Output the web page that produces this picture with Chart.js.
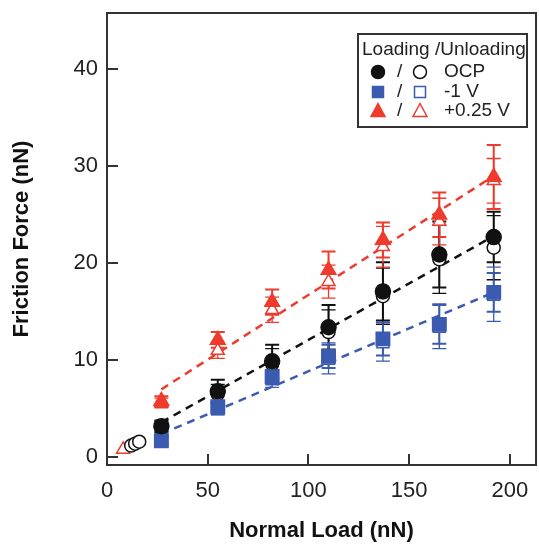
<!DOCTYPE html>
<html>
<head>
<meta charset="utf-8">
<script src="https://cdn.jsdelivr.net/npm/chart.js@4.4.0/dist/chart.umd.min.js"></script>
<style>
html, body { margin: 0; padding: 0; background: #fff; }
</style>
</head>
<body>
<canvas id="canvas" width="539" height="544"></canvas>
<script>
/* data */
const xTicks = [0, 50, 100, 150, 200];
const yTicks = [0, 10, 20, 30, 40];

const loadX = [27, 55, 82, 110, 137, 165, 192];
const ocpLoad = [3.2, 6.8, 9.9, 13.4, 17.1, 20.9, 22.7];
const ocpLoadErr = [0.6, 1.2, 1.7, 2.3, 3.0, 3.4, 2.6];
const negLoad = [1.7, 5.2, 8.3, 10.4, 12.2, 13.7, 17.0];
const negLoadErr = [0.4, 0.5, 0.7, 1.2, 1.7, 2.0, 2.0];
const posLoad = [5.8, 12.1, 16.0, 19.3, 22.4, 25.0, 28.9];
const posLoadErr = [0.5, 0.8, 1.3, 1.9, 1.8, 2.3, 3.3];

const ocpUnloadX = [12, 14, 16, 27, 55, 82, 110, 137, 165, 192];
const ocpUnload = [1.2, 1.4, 1.6, 3.0, 6.5, 9.6, 12.9, 16.6, 20.4, 21.6];
const ocpUnloadErr = [0, 0, 0, 0.7, 1.0, 1.6, 2.3, 2.9, 3.5, 3.3];
const negUnloadX = [27, 55, 82, 110, 137, 165, 192];
const negUnload = [1.8, 5.0, 8.1, 10.2, 11.9, 13.5, 16.8];
const negUnloadErr = [0.4, 0.6, 0.9, 1.6, 2.0, 2.3, 2.8];
const posUnloadX = [8, 27, 55, 82, 110, 137, 165, 192];
const posUnload = [0.8, 5.6, 11.0, 15.2, 18.1, 21.7, 24.3, 28.5];
const posUnloadErr = [0, 0.5, 0.8, 1.3, 1.7, 2.1, 2.4, 2.3];

const fitX = [27, 192];
const ocpFit = [3.6, 22.8];
const negFit = [2.4, 17.0];
const posFit = [7.0, 29.0];

const RED = '#ee3b2e';
const BLUE = '#3b5bb0';
const BLACK = '#111';
const FONT = '"Liberation Sans", Arial, Helvetica, sans-serif';

function pts(xs, ys) {
    return xs.map(function(x, i){ return {x: x, y: ys[i]}; });
}

// vertical error bars with caps, drawn under the markers
const errorBars = {
    id: 'errorBars',
    beforeDatasetsDraw(chart) {
        const ctx = chart.ctx;
        const xs = chart.scales.x, ys = chart.scales.y;
        chart.data.datasets.forEach(function(ds){
            if (!ds.errors) return;
            ctx.save();
            ctx.strokeStyle = ds.errorColor;
            ctx.lineWidth = ds.errorWidth;
            ds.data.forEach(function(p, j){
                const e = ds.errors[j];
                if (!e) return;
                const px = xs.getPixelForValue(p.x);
                const top = ys.getPixelForValue(p.y + e);
                const bot = ys.getPixelForValue(p.y - e);
                ctx.beginPath();
                ctx.moveTo(px, top); ctx.lineTo(px, bot);
                ctx.moveTo(px - 7, top); ctx.lineTo(px + 7, top);
                ctx.moveTo(px - 7, bot); ctx.lineTo(px + 7, bot);
                ctx.stroke();
            });
            ctx.restore();
        });
    }
};

function marker(ctx, kind, x, y, filled, color) {
    ctx.save();
    ctx.fillStyle = filled ? color : '#fff';
    ctx.strokeStyle = color;
    ctx.lineWidth = 1.5;
    ctx.beginPath();
    if (kind == 'circle') {
        ctx.arc(x, y, 6.5, 0, Math.PI * 2);
    } else if (kind == 'rect') {
        ctx.rect(x - 5.5, y - 5.5, 11, 11);
    } else {
        ctx.moveTo(x, y - 7.5);
        ctx.lineTo(x + 7, y + 5.5);
        ctx.lineTo(x - 7, y + 5.5);
        ctx.closePath();
    }
    ctx.fill();
    ctx.stroke();
    ctx.restore();
}

// plot frame + custom legend box
const frameAndLegend = {
    id: 'frameAndLegend',
    afterDraw(chart) {
        const ctx = chart.ctx;
        const a = chart.chartArea;
        ctx.save();
        ctx.strokeStyle = '#333';
        ctx.lineWidth = 2;
        ctx.strokeRect(a.left, a.top, a.right - a.left, a.bottom - a.top);

        ctx.strokeRect(358, 34, 169, 93);
        ctx.fillStyle = '#222';
        ctx.font = '19px ' + FONT;
        ctx.textBaseline = 'middle';
        ctx.fillText('Loading /Unloading', 362, 50);
        const rows = [
            ['circle', BLACK, 'OCP', 72],
            ['rect', BLUE, '-1 V', 92],
            ['triangle', RED, '+0.25 V', 111]
        ];
        rows.forEach(function(r){
            marker(ctx, r[0], 378, r[3], true, r[1]);
            ctx.fillStyle = '#222';
            ctx.fillText('/', 397, r[3]);
            marker(ctx, r[0], 420, r[3], false, r[1]);
            ctx.fillStyle = '#222';
            ctx.fillText(r[2], 444, r[3]);
        });
        ctx.restore();
    }
};

function scatterSet(data, errors, style, color, filled, radius, errW) {
    return {
        type: 'scatter',
        data: data,
        errors: errors,
        errorColor: color,
        errorWidth: errW,
        pointStyle: style,
        pointRadius: radius,
        pointHoverRadius: radius,
        pointBackgroundColor: filled ? color : '#fff',
        pointBorderColor: color,
        pointBorderWidth: 1.5,
        showLine: false,
        order: filled ? 1 : 2
    };
}

function fitSet(ys, color) {
    return {
        type: 'line',
        data: pts(fitX, ys),
        borderColor: color,
        borderWidth: 2.5,
        borderDash: [8, 6],
        pointRadius: 0,
        fill: false,
        order: 5
    };
}

function noPad(s) {
    s.paddingTop = 0; s.paddingBottom = 0;
    s.paddingLeft = 0; s.paddingRight = 0;
}

const ctx = document.getElementById('canvas');
new Chart(ctx, {
    type: 'scatter',
    data: {
        datasets: [
            scatterSet(pts(loadX, ocpLoad), ocpLoadErr, 'circle', BLACK, true, 7.5, 2),
            scatterSet(pts(loadX, negLoad), negLoadErr, 'rect', BLUE, true, 9.5, 2),
            scatterSet(pts(loadX, posLoad), posLoadErr, 'triangle', RED, true, 8.5, 2),
            scatterSet(pts(ocpUnloadX, ocpUnload), ocpUnloadErr, 'circle', BLACK, false, 6.5, 1.3),
            scatterSet(pts(negUnloadX, negUnload), negUnloadErr, 'rect', BLUE, false, 8.5, 1.3),
            scatterSet(pts(posUnloadX, posUnload), posUnloadErr, 'triangle', RED, false, 7.5, 1.3),
            fitSet(ocpFit, BLACK),
            fitSet(negFit, BLUE),
            fitSet(posFit, RED)
        ]
    },
    options: {
        responsive: false,
        animation: false,
        layout: { autoPadding: false, padding: { left: 0, top: 13, right: 3, bottom: 0 } },
        plugins: {
            legend: { display: false },
            tooltip: { enabled: false }
        },
        scales: {
            x: {
                type: 'linear',
                min: 0,
                max: 213,
                afterBuildTicks: function(s){ s.ticks = xTicks.map(function(v){ return {value: v}; }); },
                afterFit: function(s){ s.height = 79; noPad(s); },
                grid: { drawOnChartArea: false, drawTicks: true, tickLength: -11, color: '#333', lineWidth: 2 },
                border: { display: true, color: '#333', width: 2 },
                ticks: { color: '#222', font: { family: FONT, size: 22 }, padding: 24, maxRotation: 0 },
                title: { display: true, text: 'Normal Load (nN)', color: '#111', font: { family: FONT, size: 22, weight: 'bold' }, padding: { bottom: 0 } }
            },
            y: {
                type: 'linear',
                min: -0.8,
                max: 45.8,
                afterBuildTicks: function(s){ s.ticks = yTicks.map(function(v){ return {value: v}; }); },
                afterFit: function(s){ s.width = 107; noPad(s); },
                grid: { drawOnChartArea: false, drawTicks: true, tickLength: -11, color: '#333', lineWidth: 2 },
                border: { display: true, color: '#333', width: 2 },
                ticks: { color: '#222', font: { family: FONT, size: 22 }, padding: 20 },
                title: { display: true, text: 'Friction Force (nN)', color: '#111', font: { family: FONT, size: 22, weight: 'bold' }, padding: { top: 9 } }
            }
        }
    },
    plugins: [errorBars, frameAndLegend]
});
</script>
</body>
</html>
